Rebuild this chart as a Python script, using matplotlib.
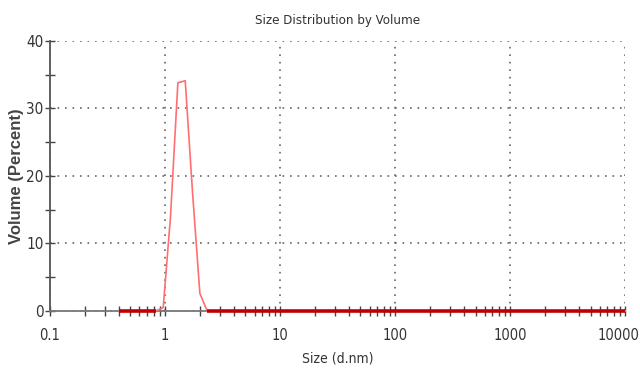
import numpy as np
import matplotlib
matplotlib.use("Agg")
import matplotlib.pyplot as plt
from matplotlib import font_manager
import matplotlib.transforms as mtransforms
from matplotlib.ticker import FixedLocator, NullFormatter

# pick a condensed family if one is installed
narrow_family = None
narrow_stretch = 'normal'
for f in font_manager.fontManager.ttflist:
    if 'Narrow' in f.name and 'Liberation' in f.name:
        narrow_family = f.name
        break
if narrow_family is None:
    for f in font_manager.fontManager.ttflist:
        if f.name == 'DejaVu Sans' and 'Condensed' in f.fname:
            narrow_family = 'DejaVu Sans'
            narrow_stretch = 'condensed'
            break
if narrow_family is None:
    narrow_family = 'Liberation Sans'
    scale = 0.85
else:
    scale = 1.0

plt.rcParams['font.family'] = [narrow_family, 'DejaVu Sans']

sizes = [0.4000, 0.4632, 0.5365, 0.6213, 0.7195, 0.8332, 0.9649, 1.117, 1.294, 1.499,
         1.736, 2.010, 2.328, 2.696, 3.122, 3.615, 4.187, 4.849, 5.615, 6.503,
         7.531, 8.721, 10.10, 11.70, 13.54, 15.69, 18.17, 21.04, 24.36, 28.21,
         32.67, 37.84, 43.82, 50.75, 58.77, 68.06, 78.82, 91.28, 105.7, 122.4,
         141.8, 164.2, 190.1, 220.2, 255.0, 295.3, 342.0, 396.1, 458.7, 531.2,
         615.1, 712.4, 825.0, 955.4, 1106, 1281, 1484, 1718, 1990, 2305,
         2669, 3091, 3580, 4145, 4801, 5560, 6439, 7456, 8635, 10000]
volume = [0, 0, 0, 0, 0, 0, 0.5, 14.0, 33.8, 34.1,
          17.5, 2.6] + [0] * 58

x_ticks = [0.1, 1, 10, 100, 1000, 10000]
x_labels = ["0.1", "1", "10", "100", "1000", "10000"]
y_ticks = [0, 10, 20, 30, 40]
y_labels = ["0", "10", "20", "30", "40"]

sizes = np.array(sizes)
volume = np.array(volume, dtype=float)

fig = plt.figure(figsize=(6.4, 3.72), dpi=100)
ax = fig.add_axes([0.078, 0.164, 0.899, 0.726])

ax.set_xscale('log')
ax.set_xlim(0.1, 10000)
ax.set_ylim(0, 40)

ax.plot(sizes, volume, color='#ff6f6f', lw=1.2, zorder=3, clip_on=False)
zero_part = np.where(volume == 0, volume, np.nan)
ax.plot(sizes, zero_part, color='#c00000', lw=2.6, zorder=4, clip_on=False,
        solid_capstyle='butt')

ax.xaxis.set_major_locator(FixedLocator(x_ticks))
ax.set_xticklabels(x_labels)
minor = [m * 10.0 ** e for e in range(-1, 4) for m in range(2, 10)]
ax.xaxis.set_minor_locator(FixedLocator(minor))
ax.xaxis.set_minor_formatter(NullFormatter())
ax.yaxis.set_major_locator(FixedLocator(y_ticks))
ax.set_yticklabels(y_labels)
ax.yaxis.set_minor_locator(FixedLocator([5, 15, 25, 35]))

ax.tick_params(which='both', direction='inout', length=7, width=1.0, color='#444444',
               labelsize=10.5 * scale, labelcolor='#333333')
ax.tick_params(axis='y', labelsize=11 * scale)
ax.tick_params(axis='x', which='major', pad=9)
ax.tick_params(axis='y', which='major', pad=1)
for lab in ax.get_xticklabels() + ax.get_yticklabels():
    lab.set_fontstretch(narrow_stretch)
xl = ax.get_xticklabels()
xl[-1].set_transform(xl[-1].get_transform() +
                     mtransforms.ScaledTranslation(-7 / 100, 0, fig.dpi_scale_trans))

ax.grid(True, which='major', color='#666666', linestyle=(0, (1, 3.5)), linewidth=1.2)

for s in ['top', 'right']:
    ax.spines[s].set_visible(False)
ax.spines['left'].set_color('#555555')
ax.spines['bottom'].set_color('#777777')
ax.spines['left'].set_linewidth(1.3)
ax.spines['bottom'].set_linewidth(1.3)

ax.set_title("Size Distribution by Volume", fontsize=9.5 * scale, color='#333333', pad=12,
             fontstretch=narrow_stretch)
ax.set_xlabel("Size (d.nm)", fontsize=10 * scale, color='#333333', labelpad=6,
              fontstretch=narrow_stretch)
ax.set_ylabel("Volume (Percent)", fontsize=12, fontweight='bold', color='#444444',
              family=['Liberation Sans', 'DejaVu Sans'])
ax.yaxis.set_label_coords(-0.045, 0.5)

fig.savefig("out.png", dpi=100, facecolor='white')
